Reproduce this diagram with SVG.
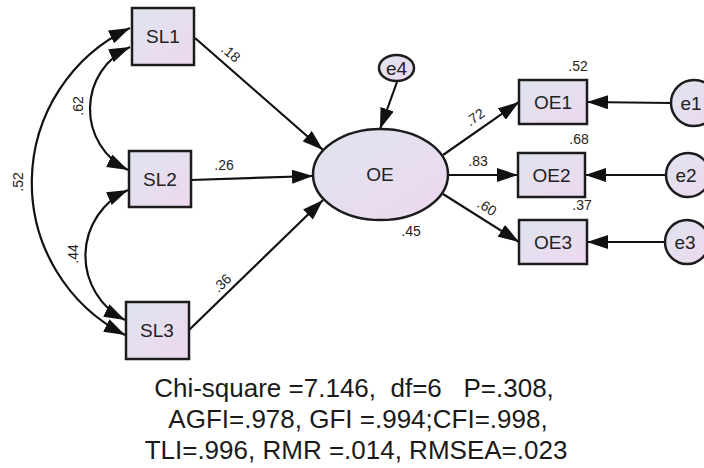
<svg xmlns="http://www.w3.org/2000/svg" width="704" height="468" viewBox="0 0 704 468">
<style>
.node{stroke:#1c1c1c;stroke-width:2.5;fill:url(#fillG)}
.lbl{font-family:"Liberation Sans",Arial,sans-serif;font-size:19px;fill:#222;text-anchor:middle}
.num{font-family:"Liberation Sans",Arial,sans-serif;font-size:14px;fill:#222;text-anchor:middle}
.fit{font-family:"Liberation Sans",Arial,sans-serif;font-size:26px;fill:#1a1a1a;text-anchor:middle;white-space:pre}
.con{stroke:#111;stroke-width:2.2;fill:none}
.arr{marker-end:url(#ah)}
.bi{marker-start:url(#ah);marker-end:url(#ah)}
</style>
<defs>
<linearGradient id="fillG" x1="0" y1="0" x2="1" y2="1">
<stop offset="0" stop-color="#dfe4ef"/>
<stop offset="1" stop-color="#edd8ef"/>
</linearGradient>
<marker id="ah" markerUnits="userSpaceOnUse" markerWidth="21" markerHeight="14" refX="21" refY="7" orient="auto-start-reverse">
<path d="M0,0 L21,7 L0,14 z" fill="#111"/>
</marker>
</defs>
<rect width="704" height="468" fill="#fff"/>

<g id="connectors">
<path class="con bi" d="M130,47 A68,68 0 0,0 128,170"/>
<path class="con bi" d="M128,190 A72,72 0 0,0 125,320"/>
<path class="con bi" d="M130,28 A171,171 0 0,0 125,335"/>
<line class="con arr" x1="195" y1="38" x2="323" y2="150"/>
<line class="con arr" x1="191" y1="180" x2="313" y2="176"/>
<line class="con arr" x1="189" y1="330" x2="323" y2="200"/>
<line class="con arr" x1="397" y1="82" x2="380" y2="129"/>
<line class="con arr" x1="443" y1="155" x2="519" y2="102"/>
<line class="con arr" x1="448" y1="175" x2="518" y2="175"/>
<line class="con arr" x1="443" y1="194" x2="519" y2="242"/>
<line class="con arr" x1="671" y1="103" x2="587" y2="102"/>
<line class="con arr" x1="666" y1="175" x2="585" y2="175"/>
<line class="con arr" x1="665" y1="242" x2="587" y2="242"/>
</g>

<g id="SL1"><rect class="node" x="132" y="8" width="62" height="57"/><text class="lbl" x="163" y="43">SL1</text></g>
<g id="SL2"><rect class="node" x="129" y="151" width="62" height="56"/><text class="lbl" x="160" y="186">SL2</text></g>
<g id="SL3"><rect class="node" x="126" y="302" width="63" height="57"/><text class="lbl" x="157" y="337">SL3</text></g>
<g id="OE"><ellipse class="node" cx="380.5" cy="174.5" rx="67.5" ry="45.5"/><text class="lbl" x="380" y="181">OE</text></g>
<g id="e4"><ellipse class="node" cx="396.5" cy="68" rx="17.5" ry="13"/><text class="lbl" x="396.5" y="75">e4</text></g>
<g id="OE1"><rect class="node" x="519" y="80" width="68" height="44"/><text class="lbl" x="553" y="109">OE1</text></g>
<g id="OE2"><rect class="node" x="518" y="153" width="67" height="44"/><text class="lbl" x="551.5" y="182">OE2</text></g>
<g id="OE3"><rect class="node" x="519" y="220" width="68" height="44"/><text class="lbl" x="553" y="249">OE3</text></g>
<g id="e1"><circle class="node" cx="694" cy="103" r="23"/><text class="lbl" x="691" y="110">e1</text></g>
<g id="e2"><circle class="node" cx="688" cy="175" r="22"/><text class="lbl" x="686" y="182">e2</text></g>
<g id="e3"><circle class="node" cx="687" cy="242" r="22"/><text class="lbl" x="685" y="249">e3</text></g>

<g id="labels">
<text class="num" transform="translate(231,53) rotate(41)" dominant-baseline="central">.18</text>
<text class="num" transform="translate(78,106) rotate(-90)" dominant-baseline="central">.62</text>
<text class="num" transform="translate(18,182) rotate(-90)" dominant-baseline="central">.52</text>
<text class="num" x="224" y="170">.26</text>
<text class="num" transform="translate(73,254) rotate(-90)" dominant-baseline="central">.44</text>
<text class="num" transform="translate(222,283) rotate(-44)" dominant-baseline="central">.36</text>
<text class="num" x="411" y="236">.45</text>
<text class="num" transform="translate(475,117) rotate(-35)" dominant-baseline="central">.72</text>
<text class="num" x="478" y="166">.83</text>
<text class="num" transform="translate(487,207) rotate(33)" dominant-baseline="central">.60</text>
<text class="num" x="578" y="71">.52</text>
<text class="num" x="579" y="144">.68</text>
<text class="num" x="582" y="210">.37</text>
</g>

<g id="fit">
<text class="fit" x="354" y="397">Chi-square =7.146,  df=6   P=.308,</text>
<text class="fit" x="358" y="428">AGFI=.978, GFI =.994;CFI=.998,</text>
<text class="fit" x="356" y="459">TLI=.996, RMR =.014, RMSEA=.023</text>
</g>
</svg>
